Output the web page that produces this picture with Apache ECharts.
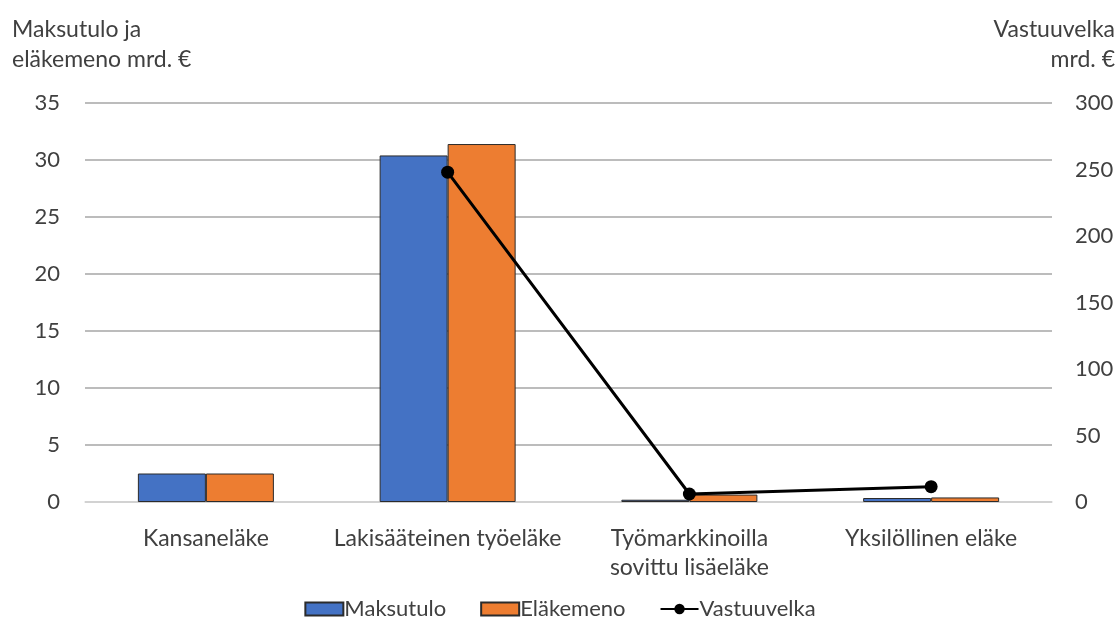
<!DOCTYPE html>
<html>
<head>
<meta charset="utf-8">
<script src="https://cdn.jsdelivr.net/npm/echarts@6/dist/echarts.min.js"></script>
<style>
  html, body { margin: 0; padding: 0; background: #fff; }
  #chart { width: 1120px; height: 626px; }
</style>
</head>
<body>
<div id="chart"></div>
<script>
var categories = ['Kansaneläke', 'Lakisääteinen työeläke', 'Työmarkkinoilla\nsovittu lisäeläke', 'Yksilöllinen eläke']
var maksutulo = [2.5, 30.4, 0.2, 0.35]
var elakemeno = [2.5, 31.4, 0.65, 0.4]
var vastuuvelka = [null, 248, 6, 11.5]
var leftTicks = { min: 0, max: 35, interval: 5 }
var rightTicks = { min: 0, max: 300, interval: 50 }

var font = 'Lato'
var textColor = '#404040'
var fs = 22

var chart = echarts.init(document.getElementById('chart'))
var option = {
  animation: false,
  textStyle: { fontFamily: font },
  grid: { left: 85, right: 68, top: 103, bottom: 124 },
  graphic: [
    { type: 'text', x: 12, y: 30, style: { text: 'Maksutulo ja', font: '23px ' + font, fill: textColor, verticalAlign: 'middle' } },
    { type: 'text', x: 12, y: 60, style: { text: 'eläkemeno mrd. €', font: '23px ' + font, fill: textColor, verticalAlign: 'middle' } },
    { type: 'text', x: 1115, y: 30, style: { text: 'Vastuuvelka', font: '23px ' + font, fill: textColor, align: 'right', verticalAlign: 'middle' } },
    { type: 'text', x: 1115, y: 60, style: { text: 'mrd. €', font: '23px ' + font, fill: textColor, align: 'right', verticalAlign: 'middle' } }
  ],
  legend: {
    bottom: 1,
    left: 'center',
    itemGap: 34,
    itemWidth: 38,
    itemHeight: 13,
    textStyle: { fontSize: fs, color: textColor, fontFamily: font, padding: [0, 0, 0, -4] },
    data: [
      { name: 'Maksutulo', icon: 'rect' },
      { name: 'Eläkemeno', icon: 'rect' },
      { name: 'Vastuuvelka' }
    ]
  },
  xAxis: {
    type: 'category',
    data: categories,
    axisTick: { show: false },
    axisLine: { lineStyle: { color: '#d9d9d9', width: 1.5 } },
    axisLabel: { interval: 0, fontSize: 23, color: textColor, margin: 22, lineHeight: 29, align: 'center', fontFamily: font }
  },
  yAxis: [
    {
      type: 'value',
      min: leftTicks.min, max: leftTicks.max, interval: leftTicks.interval,
      axisLabel: { fontSize: fs, color: textColor, margin: 25, fontFamily: font },
      splitLine: { lineStyle: { color: '#a6a6a6', width: 1.5 } },
      axisLine: { show: false }, axisTick: { show: false }
    },
    {
      type: 'value',
      min: rightTicks.min, max: rightTicks.max, interval: rightTicks.interval,
      axisLabel: { fontSize: fs, color: textColor, margin: 23, fontFamily: font },
      splitLine: { show: false },
      axisLine: { show: false }, axisTick: { show: false }
    }
  ],
  series: [
    {
      name: 'Maksutulo', type: 'bar', data: maksutulo,
      barWidth: 68, barGap: '0%',
      itemStyle: { color: '#4472c4', borderColor: '#2b2b2b', borderWidth: 1 }
    },
    {
      name: 'Eläkemeno', type: 'bar', data: elakemeno,
      barWidth: 68,
      itemStyle: { color: '#ed7d31', borderColor: '#2b2b2b', borderWidth: 1 }
    },
    {
      name: 'Vastuuvelka', type: 'line', yAxisIndex: 1, data: vastuuvelka,
      symbol: 'circle', symbolSize: 13,
      lineStyle: { color: '#000', width: 3 },
      itemStyle: { color: '#000' }
    }
  ]
}
chart.setOption(option)
</script>
</body>
</html>
